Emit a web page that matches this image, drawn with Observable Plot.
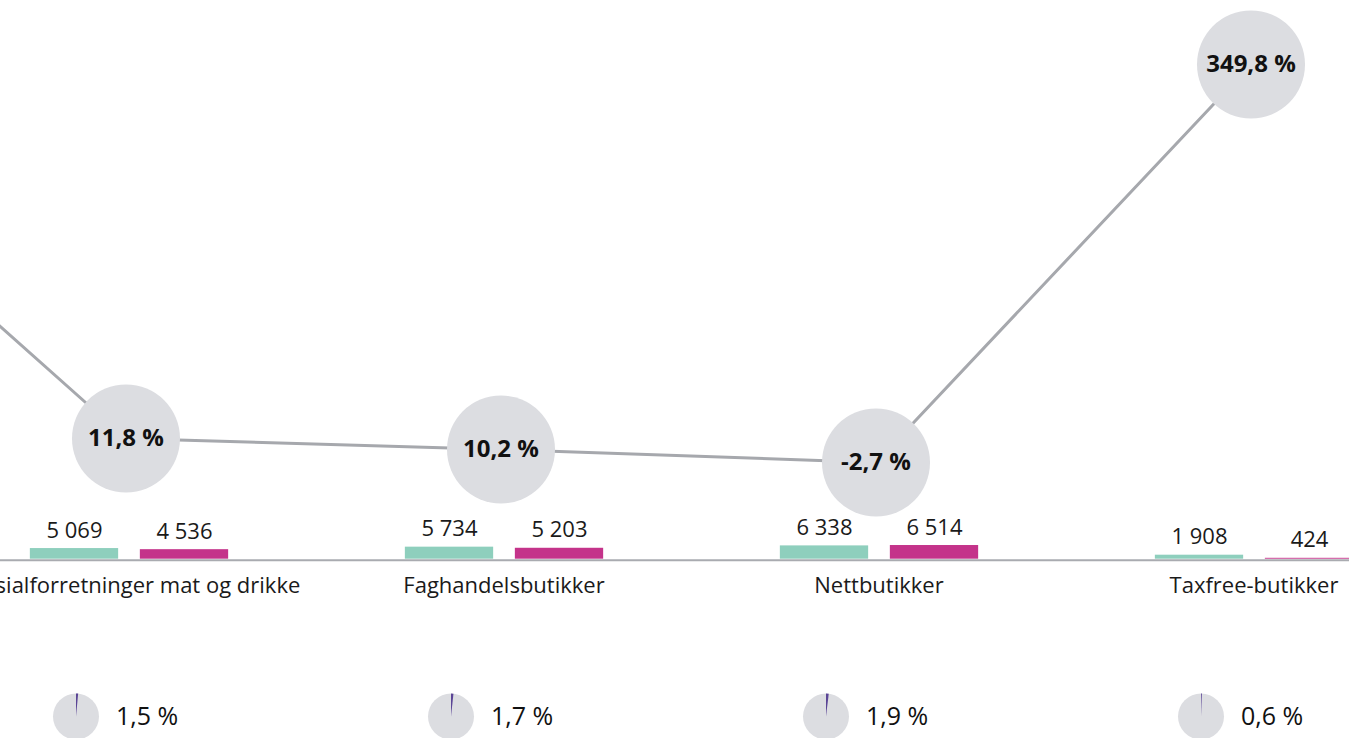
<!DOCTYPE html>
<html>
<head>
<meta charset="utf-8">
<script src="https://cdn.jsdelivr.net/npm/d3@7"></script>
<script src="https://cdn.jsdelivr.net/npm/@observablehq/plot@0.6"></script>
<style>
html, body { margin: 0; padding: 0; background: #fff; }
#chart { position: relative; width: 1349px; height: 738px; overflow: hidden; font-family: "Open Sans", sans-serif; }
#chart svg { position: absolute; left: 0; overflow: visible; }
</style>
</head>
<body>
<div id="chart"></div>
<script>
// ---- data ----
// a category to the left of the visible area (only its line segment enters the picture)
const hiddenCategory = "forrige kategori";
const hiddenGrowth = 314;            // estimated from the slope of the incoming line
const categories = ["Spesialforretninger mat og drikke", "Faghandelsbutikker", "Nettbutikker", "Taxfree-butikker"];
const growth = [11.8, 10.2, -2.7, 349.8];          // % change
const salesCurrent = [5069, 5734, 6338, 1908];     // green bars
const salesPrevious = [4536, 5203, 6514, 424];     // pink bars
const shares = [1.5, 1.7, 1.9, 0.6];               // share, pies

// ---- formatting ----
const nb = d3.formatLocale({decimal: ",", thousands: " ", grouping: [3], currency: ["", " kr"], minus: "-"});
const fmtInt = nb.format(",d");
const fmtPct = v => nb.format(".1f")(v) + " %";

// ---- colours ----
const GREEN = "#8ecfbd", PINK = "#c4338a", CIRCLE = "#dcdde1", LINE = "#a6a8ad", PURPLE = "#5b4596", TEXT = "#1a1a1a";

const W = 1349;
const allCats = [hiddenCategory, ...categories];
const font = "'Open Sans', sans-serif";
const chart = document.getElementById("chart");

// ---- line with growth circles ----
const lineRows = allCats.map((c, i) => ({cat: c, growth: i === 0 ? hiddenGrowth : growth[i - 1]}));
const visRows = lineRows.slice(1);
const step1 = 375, c1 = 125.5;
const growthKnots = d3.sort(growth);
const p1 = Plot.plot({
  width: W, height: 530, margin: 0,
  style: {fontFamily: font, overflow: "visible", background: "transparent"},
  x: {type: "band", domain: allCats, range: [c1 - 1.5 * step1, c1 + 3.5 * step1], padding: 0, axis: null},
  y: {type: "linear", domain: growthKnots, range: [462, 449, 438, 64], axis: null},
  marks: [
    Plot.line(lineRows, {x: "cat", y: "growth", stroke: LINE, strokeWidth: 3}),
    Plot.dot(visRows, {x: "cat", y: "growth", r: 54, fill: CIRCLE, stroke: "none"}),
    Plot.text(visRows, {x: "cat", y: "growth", text: d => fmtPct(d.growth), fontSize: 24, fontWeight: 700, fill: "#111"})
  ]
});
p1.style.top = "0px";
chart.appendChild(p1);

// ---- bars ----
const step2 = 375.7, c2 = 128;
const curRows = categories.map((c, i) => ({cat: c, value: salesCurrent[i]}));
const prevRows = categories.map((c, i) => ({cat: c, value: salesPrevious[i]}));
const p2 = Plot.plot({
  width: W, height: 140, margin: 0,
  style: {fontFamily: font, overflow: "visible", background: "transparent"},
  x: {type: "band", domain: allCats, range: [c2 - 1.5 * step2, c2 + 3.5 * step2], padding: 0, axis: null},
  y: {domain: [0, 10000], range: [78.7, 57.7], axis: null},
  marks: [
    Plot.ruleY([0], {stroke: "#a9abb0", strokeWidth: 2, dy: 1}),
    Plot.barY(curRows, {x: "cat", y: "value", fill: GREEN, insetLeft: step2 / 2 - 99, insetRight: step2 / 2 + 10}),
    Plot.barY(prevRows, {x: "cat", y: "value", fill: PINK, insetLeft: step2 / 2 + 11, insetRight: step2 / 2 - 100}),
    Plot.text(curRows, {x: "cat", y: "value", text: d => fmtInt(d.value), dx: -54.5, dy: -11, lineAnchor: "bottom", fontSize: 22, fill: TEXT}),
    Plot.text(prevRows, {x: "cat", y: "value", text: d => fmtInt(d.value), dx: 55.5, dy: -11, lineAnchor: "bottom", fontSize: 22, fill: TEXT}),
    Plot.text(categories, {x: d => d, y: 0, text: d => d, lineAnchor: "top", dy: 18, fontSize: 22, fill: TEXT})
  ]
});
p2.style.top = "480px";
chart.appendChild(p2);

// ---- share pies ----
const pieRows = categories.map((c, i) => ({cat: c, share: shares[i]}));
const wedge = share => ({
  draw(context, l) {
    const a0 = -Math.PI / 2, a1 = a0 + 2 * Math.PI * share / 100;
    context.moveTo(0, 0);
    context.arc(0, 0, l, a0, a1);
    context.closePath();
  }
});
const p3 = Plot.plot({
  width: W, height: 72, margin: 0,
  style: {fontFamily: font, overflow: "visible", background: "transparent"},
  x: {type: "band", domain: allCats, range: [c2 - 1.5 * step2, c2 + 3.5 * step2], padding: 0, axis: null},
  marks: [
    Plot.dot(pieRows, {x: "cat", r: 23, fill: CIRCLE, stroke: "none", dx: -53}),
    ...pieRows.map(row => Plot.vector([row], {x: "cat", length: 23, anchor: "start", shape: wedge(row.share), fill: PURPLE, stroke: "none", dx: -53})),
    Plot.text(pieRows, {x: "cat", text: d => fmtPct(d.share), textAnchor: "start", dx: -13, dy: 0, fontSize: 25, fill: "#111"})
  ]
});
p3.style.top = "680px";
chart.appendChild(p3);
</script>
</body>
</html>
